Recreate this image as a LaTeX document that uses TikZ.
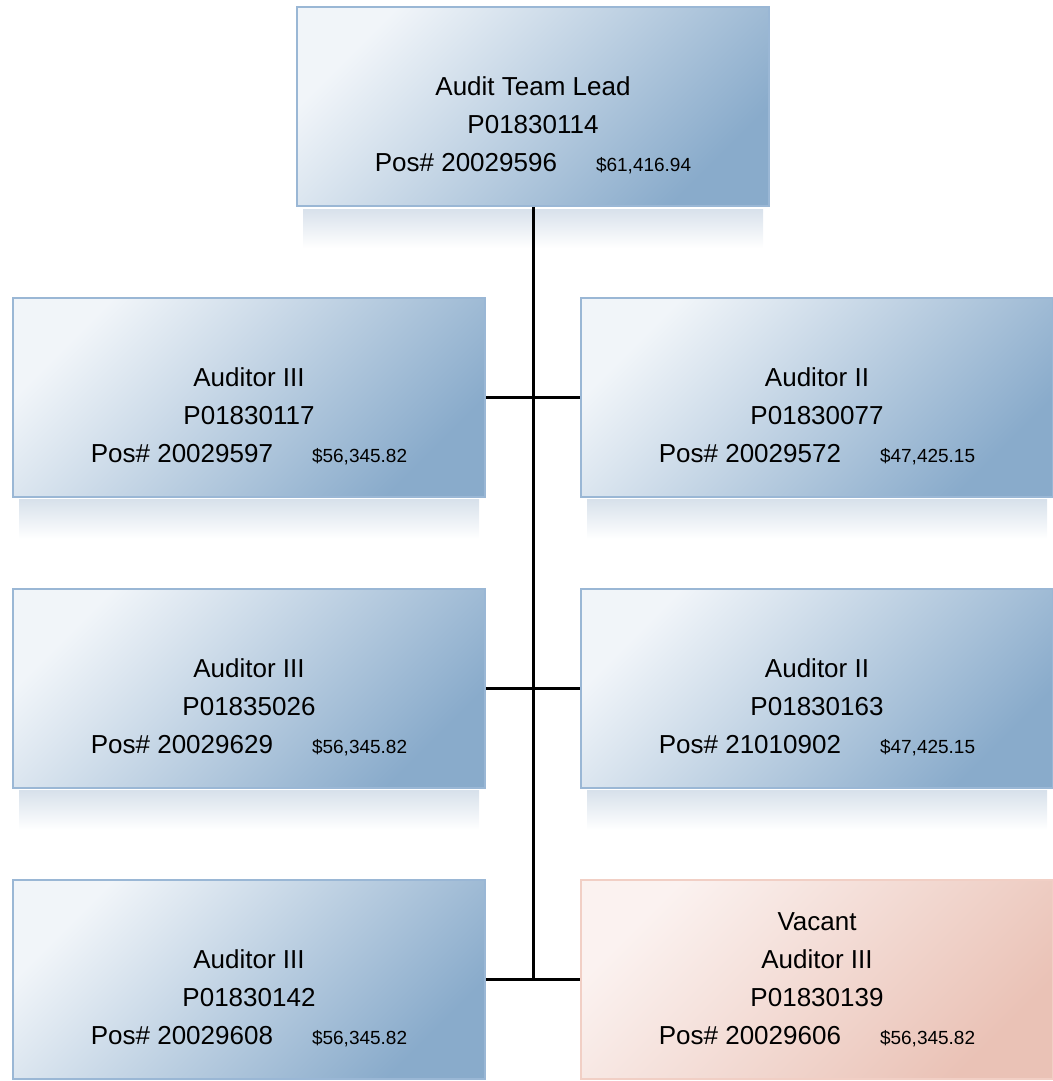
\documentclass[tikz,border=0pt]{standalone}
\usepackage{fontspec}
\setmainfont{Liberation Sans}

\definecolor{boxlight}{HTML}{F1F5F9}
\definecolor{boxdark}{HTML}{89ABCB}
\definecolor{boxline}{HTML}{9AB7D5}
\definecolor{vaclight}{HTML}{FBF2F0}
\definecolor{vacdark}{HTML}{EAC2B6}
\definecolor{vacline}{HTML}{F1CFC5}
\definecolor{glowblue}{HTML}{D8E1EB}

\tikzset{
  posbox/.style={draw=boxline, line width=1pt, top color=boxlight, bottom color=boxdark,
    shading angle=45, minimum width=236pt, minimum height=99.5pt, inner sep=0pt,
    align=center, font=\fontsize{13}{19}\selectfont},
  vacbox/.style={posbox, draw=vacline, top color=vaclight, bottom color=vacdark, shading angle=45},
  glow/.style={top color=glowblue, bottom color=white, draw=none},
  link/.style={line width=1.5pt, black},
}
\newcommand{\salary}[1]{\hspace{19.5pt}{\fontsize{9.5}{11}\selectfont\$#1}}

\begin{document}
\begin{tikzpicture}[x=0.5pt, y=-0.5pt]
    \useasboundingbox (0,0) rectangle (1053,1081);

    % soft reflections under the boxes
    \fill[glow] (303,209) rectangle (763,248);
    \foreach \cx in {249,817}
        \foreach \cy in {397.5,688.5}
            \fill[glow] (\cx-230,\cy+102) rectangle (\cx+230,\cy+141);

    \node[posbox] (lead) at (533,106.5) {\vphantom{V}\\Audit Team Lead\\P01830114\\Pos\# 20029596\salary{61,416.94}};

    \node[posbox] (aud1) at (249,397.5) {\vphantom{V}\\Auditor III\\P01830117\\Pos\# 20029597\salary{56,345.82}};
    \node[posbox] (aud2) at (817,397.5) {\vphantom{V}\\Auditor II\\P01830077\\Pos\# 20029572\salary{47,425.15}};
    \node[posbox] (aud3) at (249,688.5) {\vphantom{V}\\Auditor III\\P01835026\\Pos\# 20029629\salary{56,345.82}};
    \node[posbox] (aud4) at (817,688.5) {\vphantom{V}\\Auditor II\\P01830163\\Pos\# 21010902\salary{47,425.15}};
    \node[posbox] (aud5) at (249,979.5) {\vphantom{V}\\Auditor III\\P01830142\\Pos\# 20029608\salary{56,345.82}};
    \node[vacbox] (vac)  at (817,979.5) {Vacant\\Auditor III\\P01830139\\Pos\# 20029606\salary{56,345.82}};

    \draw[link] (lead.south) -- (lead.south |- aud5.east);
    \draw[link] (aud1.east) -- (aud2.west);
    \draw[link] (aud3.east) -- (aud4.west);
    \draw[link] (aud5.east) -- (vac.west);
\end{tikzpicture}
\end{document}
